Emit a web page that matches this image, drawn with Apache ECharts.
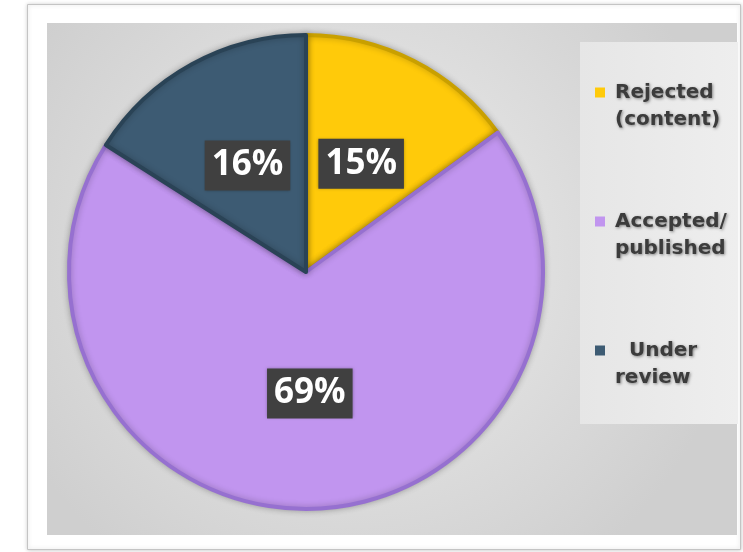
<!DOCTYPE html>
<html>
<head>
<meta charset="utf-8">
<script src="https://cdn.jsdelivr.net/npm/echarts@6/dist/echarts.min.js"></script>
<style>
  html, body { margin: 0; padding: 0; background: #fff; }
  #chart { width: 743px; height: 552px; }
</style>
</head>
<body>
<div id="chart"></div>
<script>
// slice data, clockwise from 12 o'clock
const categories = ['Rejected\n(content)', 'Accepted/\npublished', '  Under\nreview']
const values = [15, 69, 16]
const colors = ['#FFCA0A', '#C195EF', '#3D5B73']
const rimColors = ['#C9A000', '#9670D0', '#2A4356']

const chart = echarts.init(document.getElementById('chart'))

const option = {
  backgroundColor: '#fff',
  animation: false,
  graphic: [
    // outer frame
    {
      type: 'rect',
      shape: { x: 27.5, y: 4.5, width: 713, height: 545 },
      style: {
        fill: '#fff',
        stroke: '#c4c4c4',
        lineWidth: 1,
        shadowBlur: 4,
        shadowColor: 'rgba(0,0,0,0.2)'
      },
      z: -10
    },
    // grey plot area
    {
      type: 'rect',
      shape: { x: 47, y: 23, width: 690, height: 512 },
      style: {
        fill: {
          type: 'radial', x: 0.45, y: 0.45, r: 0.75,
          colorStops: [
            { offset: 0, color: '#eeeeee' },
            { offset: 1, color: '#cfcfcf' }
          ]
        }
      },
      z: -9
    },
    // legend box
    {
      type: 'rect',
      shape: { x: 580, y: 42, width: 158, height: 382 },
      style: {
        fill: {
          type: 'linear', x: 0, y: 0, x2: 1, y2: 0,
          colorStops: [
            { offset: 0, color: '#e6e6e6' },
            { offset: 1, color: '#eeeeee' }
          ]
        }
      },
      z: -8
    }
  ],
  legend: {
    orient: 'vertical',
    left: 595,
    top: 52,
    padding: 0,
    itemGap: 48,
    itemWidth: 10,
    itemHeight: 10,
    icon: 'rect',
    itemStyle: { borderWidth: 0 },
    // blank first line keeps the square level with the first text line
    formatter: name => '\n' + name,
    textStyle: {
      fontFamily: 'DejaVu Sans',
      fontWeight: 'bold',
      fontSize: 20,
      lineHeight: 27,
      color: '#3c3c3c',
      padding: [0, 0, 0, 5],
      textShadowColor: 'rgba(0,0,0,0.45)',
      textShadowBlur: 3,
      textShadowOffsetX: 1,
      textShadowOffsetY: 1
    },
    data: categories
  },
  series: [{
    type: 'pie',
    center: [306, 272],
    radius: 237,
    startAngle: 90,
    clockwise: true,
    avoidLabelOverlap: false,
    emphasis: { disabled: true },
    itemStyle: {
      borderWidth: 4,
      shadowBlur: 6,
      shadowColor: 'rgba(0,0,0,0.25)'
    },
    label: {
      show: true,
      position: 'inside',
      formatter: '{d}%',
      fontFamily: 'Open Sans',
      fontWeight: 'bold',
      fontSize: 35,
      lineHeight: 40,
      color: '#fff',
      backgroundColor: '#404040',
      padding: [6, 7, 4, 7],
      shadowBlur: 3,
      shadowColor: 'rgba(0,0,0,0.3)'
    },
    labelLine: { show: false },
    data: categories.map((name, i) => ({
      name: name,
      value: values[i],
      itemStyle: { color: colors[i], borderColor: rimColors[i] }
    }))
  }]
}

chart.setOption(option)
</script>
</body>
</html>
